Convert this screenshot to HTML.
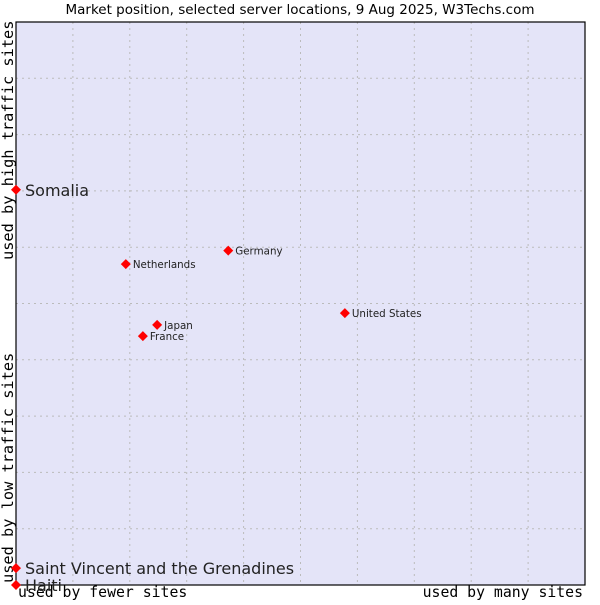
<!DOCTYPE html>
<html><head><meta charset="utf-8"><style>
body{margin:0;background:#fff;}
svg text{font-family:"DejaVu Sans","Liberation Sans",sans-serif;}
.mono{font-family:"DejaVu Sans Mono","Liberation Mono",monospace;}
</style></head><body>
<svg id="chart" width="600" height="600" viewBox="0 0 600 600">
<text x="300" y="14" text-anchor="middle" font-size="13.5" fill="#000">Market position, selected server locations, 9 Aug 2025, W3Techs.com</text>
<rect x="16" y="22" width="569" height="563" fill="#e4e4f8"/>
<g id="grid"></g>
<rect x="16" y="22" width="569" height="563" fill="none" stroke="#000" stroke-width="1.2"/>
<text class="mono" x="18" y="597" font-size="14.8">used by fewer sites</text>
<text class="mono" x="583" y="597" font-size="14.8" text-anchor="end">used by many sites</text>
<text class="mono" transform="translate(13,583) rotate(-90)" font-size="15.3">used by low traffic sites</text>
<text class="mono" transform="translate(13,260) rotate(-90)" font-size="15.3">used by high traffic sites</text>
<g id="points"></g>
</svg>
<script>
const countries=["Somalia","Saint Vincent and the Grenadines","Haiti","Netherlands","Germany","Japan","France","United States"];
const xValues=[0,0,0,19.3,37.3,24.8,22.3,57.8];
const yValues=[70.2,3.0,0,57.0,59.4,46.2,44.2,48.3];
const bigLabel=[true,true,true,false,false,false,false,false];
const L=16,T=22,W=569,H=563;
const sx=v=>L+v/100*W, sy=v=>T+H-v/100*H;
const NS="http://www.w3.org/2000/svg";
const grid=document.getElementById('grid');
for(let i=1;i<10;i++){
  const x=L+i*W/10, y=T+i*H/10;
  const a=document.createElementNS(NS,'line');
  
  
  a.setAttribute('x1',x);a.setAttribute('x2',x);a.setAttribute('y1',T);a.setAttribute('y2',T+H);
  a.setAttribute('stroke','#bbbbbb');a.setAttribute('stroke-dasharray','2,4');grid.appendChild(a);
  const b=document.createElementNS(NS,'line');
  
  
  b.setAttribute('y1',y);b.setAttribute('y2',y);b.setAttribute('x1',L);b.setAttribute('x2',L+W);
  b.setAttribute('stroke','#bbbbbb');b.setAttribute('stroke-dasharray','2,4');grid.appendChild(b);
}
const pts=document.getElementById('points');
countries.forEach((c,i)=>{
  const x=sx(xValues[i]), y=sy(yValues[i]);
  const p=document.createElementNS(NS,'polygon');
  
  
  p.setAttribute('points',`${x},${y-5} ${x+5},${y} ${x},${y+5} ${x-5},${y}`);
  p.setAttribute('fill','#f00');pts.appendChild(p);
  const t=document.createElementNS(NS,'text');
  
  
  const big=bigLabel[i];
  t.setAttribute('x',x+(big?9:7));t.setAttribute('y',y+(big?6:4));
  t.setAttribute('font-size',big?16:10.3);t.setAttribute('fill','#222');
  t.textContent=c;pts.appendChild(t);
});
</script>
</body></html>
